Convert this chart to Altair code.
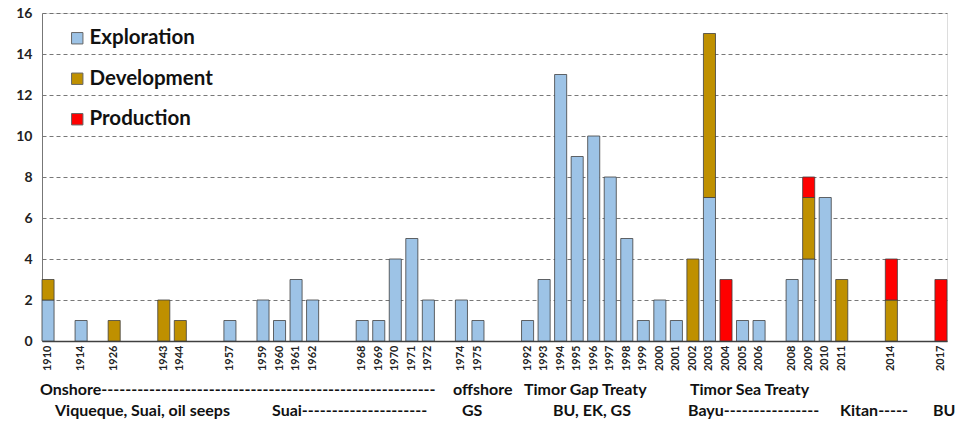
import altair as alt
import pandas as pd

years = ["1910","1914","1926","1943","1944","1957","1959","1960","1961","1962",
         "1968","1969","1970","1971","1972","1974","1975","1992","1993","1994",
         "1995","1996","1997","1998","1999","2000","2001","2002","2003","2004",
         "2005","2006","2008","2009","2010","2011","2014","2017"]
exploration = [2,1,0,0,0,1,2,1,3,2,1,1,4,5,2,2,1,1,3,13,9,10,8,5,1,2,1,0,7,0,1,1,3,4,7,0,0,0]
development = [1,0,1,2,1,0,0,0,0,0,0,0,0,0,0,0,0,0,0,0,0,0,0,0,0,0,0,4,8,0,0,0,0,3,0,3,2,0]
production  = [0,0,0,0,0,0,0,0,0,0,0,0,0,0,0,0,0,0,0,0,0,0,0,0,0,0,0,0,0,3,0,0,0,1,0,0,2,3]

# category slots along the axis (gaps = empty slots)
slots = ["1910","g1","1914","g2","1926","g3","g4","1943","1944","g5","g6","1957","g7",
         "1959","1960","1961","1962","g8","g9","1968","1969","1970","1971","1972","g10",
         "1974","1975","g11","g12","1992","1993","1994","1995","1996","1997","1998","1999",
         "2000","2001","2002","2003","2004","2005","2006","g13","2008","2009","2010","2011",
         "g14","g15","2014","g16","g17","2017"]

stages = ["Exploration", "Development", "Production"]
colors = ["#9DC3E6", "#BF9000", "#FF0000"]

rows = []
for i, y in enumerate(years):
    for k, (s, vals) in enumerate(zip(stages, [exploration, development, production])):
        if vals[i] > 0:
            rows.append({"year": y, "stage": s, "value": vals[i], "ord": k})
df = pd.DataFrame(rows)

ann_row1 = ["Onshore" + "-" * 56, "offshore", "Timor Gap Treaty", "Timor Sea Treaty"]
ann_row2 = ["Viqueque, Suai, oil seeps", "Suai" + "-" * 21, "GS", "BU, EK, GS",
            "Bayu" + "-" * 16, "Kitan-----", "BU"]
ann_x1 = [-2, 411, 482, 648]
ann_x2 = [13, 230, 420, 511, 646, 798, 891]

FONT = "Lato"
ANN_SIZE = 16

bars = alt.Chart(df).mark_bar(stroke="#404040", strokeWidth=0.8).encode(
    x=alt.X("year:N", scale=alt.Scale(domain=slots, paddingInner=0.27, paddingOuter=0),
            axis=alt.Axis(title=None, labelAngle=-90, ticks=False, labelPadding=4,
                          labelFontSize=11, labelFontWeight="bold", labelColor="#222",
                          labelFont=FONT, domainColor="#404040", domainWidth=1.5,
                          labelExpr="indexof(datum.label, 'g') == 0 ? '' : datum.label")),
    y=alt.Y("value:Q", stack="zero",
            scale=alt.Scale(domain=[0, 16], nice=False),
            axis=alt.Axis(title=None, values=list(range(0, 17, 2)), ticks=False,
                          labelPadding=10, labelFontSize=14, labelFontWeight="bold",
                          labelFont=FONT, labelColor="#222", grid=True,
                          gridDash=[4, 3], gridColor="#555", gridWidth=0.8,
                          domain=True, domainColor="#777")),
    color=alt.Color("stage:N", scale=alt.Scale(domain=stages, range=colors),
                    legend=alt.Legend(title=None, orient="none", legendX=25, legendY=15,
                                      symbolType="square", symbolSize=130,
                                      symbolStrokeColor="#666", symbolStrokeWidth=1,
                                      labelFontSize=20.5, labelFontWeight="bold",
                                      labelFont=FONT, labelColor="#111",
                                      rowPadding=19.5, labelOffset=2)),
    order=alt.Order("ord:Q"),
)

layers = [bars]
for t, xv in zip(ann_row1, ann_x1):
    layers.append(alt.Chart(pd.DataFrame({"t": [t]})).mark_text(
        align="left", baseline="middle", fontSize=ANN_SIZE, fontWeight="bold", font=FONT,
        color="#111").encode(text="t:N", x=alt.value(xv), y=alt.value(377)))
for t, xv in zip(ann_row2, ann_x2):
    layers.append(alt.Chart(pd.DataFrame({"t": [t]})).mark_text(
        align="left", baseline="middle", fontSize=ANN_SIZE, fontWeight="bold", font=FONT,
        color="#111").encode(text="t:N", x=alt.value(xv), y=alt.value(398)))

chart = alt.layer(*layers).properties(
    width=905, height=328,
    autosize=alt.AutoSizeParams(type="none"),
    padding={"left": 42, "top": 13, "right": 18, "bottom": 82},
).configure_view(stroke=None).configure(background="white")

chart.save("out.html", embed_options={"renderer": "svg", "actions": False})
